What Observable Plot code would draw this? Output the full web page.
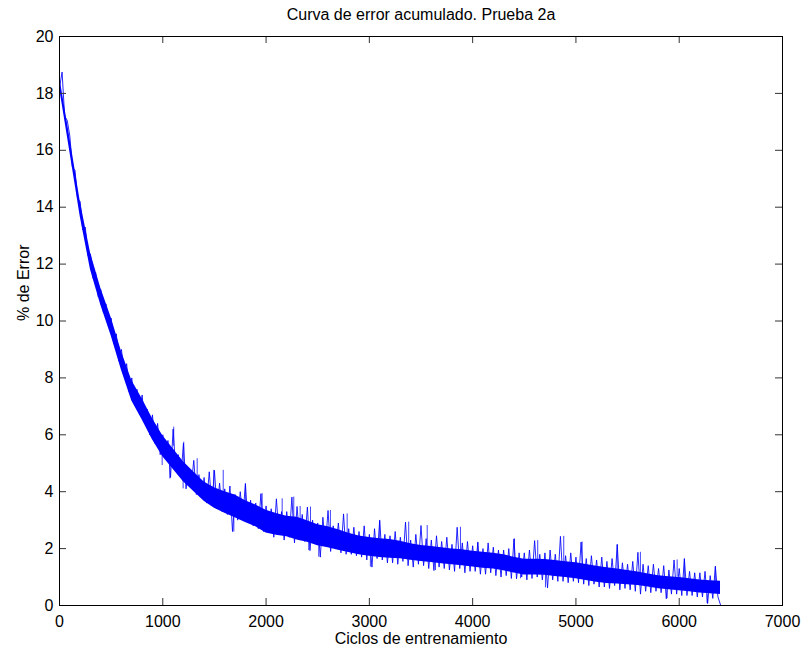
<!DOCTYPE html>
<html><head><meta charset="utf-8">
<script src="https://cdn.jsdelivr.net/npm/d3@7"></script>
<script src="https://cdn.jsdelivr.net/npm/@observablehq/plot@0.6"></script>
<style>body{margin:0;background:#fff}</style>
</head><body><div id="chart"></div>
<script>
const title = "Curva de error acumulado. Prueba 2a";
const xLabel = "Ciclos de entrenamiento";
const yLabel = "% de Error";
const xTicks = [0, 1000, 2000, 3000, 4000, 5000, 6000, 7000];
const yTicks = [0, 2, 4, 6, 8, 10, 12, 14, 16, 18, 20];

// noisy error curve, one reading every 25 cycles (alternating local highs / lows)
const sampleStep = 25;
const errorSeries = [
  18.2, 18.75, 17.2, 17.05,
  16.5, 15.4, 15.3, 14.3,
  14.2, 13.2, 13.3, 12.3,
  12.35, 11.5, 11.7, 10.85,
  11.1, 10.3, 10.6, 9.8,
  10.1, 9.2, 9.55, 8.6,
  9.0, 8.1, 8.5, 7.5,
  8.0, 7.1, 7.6, 6.7,
  7.4, 6.4, 6.9, 6.0,
  6.7, 5.7, 6.4, 5.3,
  6.0, 5.2, 5.8, 4.5,
  6.2, 4.8, 5.3, 4.5,
  5.7, 4.1, 4.8, 4.2,
  5.1, 3.9, 4.6, 3.8,
  4.5, 3.6, 4.7, 3.5,
  4.75, 3.4, 4.3, 3.3,
  4.1, 3.2, 4.2, 2.6,
  3.9, 3.0, 4.0, 3.1,
  4.28, 2.9, 3.7, 2.8,
  3.6, 2.7, 3.93, 2.6,
  3.5, 2.6, 3.4, 2.4,
  3.75, 2.5, 3.3, 2.3,
  3.3, 2.4, 3.81, 2.2,
  3.48, 2.3, 3.2, 2.25,
  3.46, 1.93, 3.0, 2.2,
  2.9, 1.7, 3.1, 2.1,
  3.34, 1.9, 2.8, 2.0,
  2.9, 1.85, 3.22, 1.8,
  2.7, 1.8, 2.75, 1.75,
  2.6, 1.7, 2.8, 1.6,
  2.5, 1.35, 2.7, 1.65,
  2.99, 1.6, 2.5, 1.5,
  2.45, 1.5, 2.6, 1.45,
  2.4, 1.55, 2.93, 1.4,
  2.3, 1.35, 2.5, 1.45,
  2.81, 1.4, 2.35, 1.3,
  2.3, 1.23, 2.45, 1.35,
  2.25, 1.3, 2.4, 1.25,
  2.15, 1.2, 2.75, 1.3,
  2.2, 1.15, 2.25, 1.2,
  2.1, 1.2, 2.22, 1.1,
  2.0, 1.1, 2.2, 1.15,
  2.05, 1.05, 1.95, 1.0,
  1.95, 1.05, 2.0, 0.95,
  2.34, 0.94, 1.85, 1.0,
  1.85, 0.9, 1.95, 0.95,
  2.28, 1.0, 1.8, 0.9,
  1.85, 0.62, 1.95, 0.9,
  1.8, 0.85, 2.43, 0.85,
  1.75, 0.8, 1.85, 0.85,
  1.7, 0.8, 2.23, 0.75,
  1.65, 0.7, 1.75, 0.75,
  1.6, 0.65, 1.7, 0.65,
  1.55, 0.6, 1.65, 0.7,
  2.14, 0.55, 1.5, 0.6,
  1.45, 0.55, 1.55, 0.5,
  1.87, 0.4, 1.45, 0.5,
  1.4, 0.45, 1.45, 0.5,
  1.3, 0.45, 1.4, 0.24,
  1.25, 0.4, 1.6, 0.4,
  1.3, 0.35, 1.64, 0.35,
  1.2, 0.35, 1.15, 0.3,
  1.15, 0.3, 1.2, 0.07,
  1.05, 0.25, 1.37, 0.3,
  0.02
];

// dense core of the band, one reading every 100 cycles
const coreStep = 100;
const coreHigh = [18.6, 16.45, 14.22, 12.4, 11.15, 10.12, 8.93, 7.91, 7.27, 6.57,
  5.97, 5.51, 5.05, 4.69, 4.34, 4.14, 4.0, 3.88, 3.68, 3.53,
  3.35, 3.23, 3.14, 3.1, 2.98, 2.84, 2.77, 2.66, 2.54, 2.44,
  2.39, 2.35, 2.32, 2.26, 2.17, 2.11, 2.07, 2.03, 1.99, 1.96,
  1.91, 1.87, 1.84, 1.78, 1.7, 1.63, 1.63, 1.62, 1.58, 1.54,
  1.5, 1.44, 1.38, 1.33, 1.28, 1.23, 1.18, 1.11, 1.05, 1.01,
  0.98, 0.94, 0.9, 0.87, 0.85];
const coreLow = [18.2, 15.95, 13.68, 11.8, 10.55, 9.48, 8.27, 7.19, 6.53, 5.83,
  5.23, 4.79, 4.35, 4.01, 3.66, 3.42, 3.24, 3.08, 2.92, 2.77,
  2.55, 2.47, 2.42, 2.3, 2.22, 2.1, 2.03, 1.94, 1.86, 1.78,
  1.73, 1.69, 1.66, 1.64, 1.59, 1.55, 1.51, 1.47, 1.43, 1.4,
  1.35, 1.31, 1.28, 1.22, 1.14, 1.07, 1.07, 1.06, 1.02, 0.98,
  0.94, 0.88, 0.82, 0.77, 0.76, 0.73, 0.7, 0.65, 0.59, 0.55,
  0.52, 0.48, 0.44, 0.41, 0.39];

// isolated spikes: cycle, band edge, spike tip
const spikeCycle = [994, 1068, 1106, 1197, 1203, 1333, 1494, 1585, 1688, 1800, 1962, 2156, 2268, 2330, 2413, 2430, 2510, 2623, 2785, 3010, 3100, 3381, 3560, 3640, 3882, 4050, 4404, 4463, 4630, 4705, 4882, 5060, 5400, 5624, 5883, 5980, 6050, 6270, 6350];
const spikeFrom  = [5.5, 5.2, 5.6, 4.6, 4.8, 4.5, 4.1, 3.9, 3.3, 3.5, 3.2, 3.0, 2.9, 2.9, 2.5, 2.8, 2.3, 2.6, 2.4, 1.9, 2.2, 2.1, 2.0, 1.6, 1.8, 1.7, 1.6, 1.2, 1.5, 1.1, 1.4, 1.4, 1.2, 1.1, 0.6, 1.0, 0.9, 0.4, 0.8];
const spikeTo    = [4.92, 4.45, 6.27, 4.1, 5.74, 5.16, 4.75, 4.75, 2.58, 4.28, 3.93, 3.75, 3.81, 3.48, 1.93, 3.46, 1.7, 3.34, 3.22, 1.35, 2.99, 2.93, 2.81, 1.23, 2.75, 2.22, 2.34, 0.94, 2.28, 0.62, 2.43, 2.23, 2.14, 1.87, 0.24, 1.6, 1.64, 0.07, 1.37];

const W = 802, H = 653, mL = 59, mR = 20, mT = 36, mB = 48;
const innerW = W - mL - mR, innerH = H - mT - mB;
const tickLen = 7;
const lineData = errorSeries.map((v, i) => ({cycle: i * sampleStep, error: v}));
const coreData = coreHigh.map((v, i) => ({cycle: i * coreStep, hi: v, lo: coreLow[i]}));
const spikeData = spikeCycle.map((c, i) => ({cycle: c, from: spikeFrom[i], to: spikeTo[i]}));
const font = "'Liberation Sans', Arial, Helvetica, sans-serif";

const chart = Plot.plot({
  width: W, height: H,
  marginLeft: mL, marginRight: mR, marginTop: mT, marginBottom: mB,
  x: {domain: [0, 7000]},
  y: {domain: [0, 20]},
  style: {fontFamily: font, fontSize: "16px", background: "#fff", color: "#000"},
  marks: [
    Plot.areaY(coreData, {x: "cycle", y1: "lo", y2: "hi", fill: "#0000ff"}),
    Plot.line(lineData, {x: "cycle", y: "error", stroke: "#0000ff", strokeWidth: 0.85}),
    Plot.ruleX(spikeData, {x: "cycle", y1: "from", y2: "to", stroke: "#0000ff", strokeWidth: 1, strokeOpacity: 0.75}),
    Plot.ruleX(xTicks, {x: d => d, insetTop: innerH - tickLen, stroke: "#333"}),
    Plot.ruleX(xTicks, {x: d => d, insetBottom: innerH - tickLen, stroke: "#333"}),
    Plot.ruleY(yTicks, {y: d => d, insetRight: innerW - tickLen, stroke: "#333"}),
    Plot.ruleY(yTicks, {y: d => d, insetLeft: innerW - tickLen, stroke: "#333"}),
    Plot.frame({stroke: "#000"}),
    Plot.axisX({ticks: xTicks, tickSize: 0, tickPadding: 10, tickFormat: d => String(d), fontSize: 16, label: null}),
    Plot.axisY({ticks: yTicks, tickSize: 0, tickPadding: 6, tickFormat: d => String(d), fontSize: 16, label: null}),
    Plot.text([title], {text: d => d, frameAnchor: "top", lineAnchor: "middle", dy: -22, fontSize: 16}),
    Plot.text([xLabel], {text: d => d, frameAnchor: "bottom", lineAnchor: "middle", dy: 33, fontSize: 16}),
    Plot.text([yLabel], {text: d => d, frameAnchor: "left", dx: -36, rotate: -90, fontSize: 16})
  ]
});
document.getElementById("chart").appendChild(chart);
</script>
</body></html>
